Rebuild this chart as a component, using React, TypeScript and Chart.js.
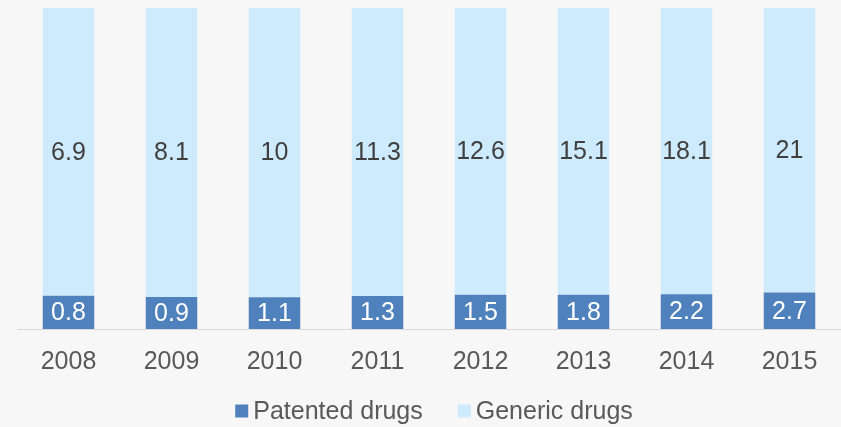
import React, { useEffect, useRef } from "react";
import { Chart, registerables } from "chart.js";

Chart.register(...registerables);

const years = ["2008", "2009", "2010", "2011", "2012", "2013", "2014", "2015"];
const patented = [0.8, 0.9, 1.1, 1.3, 1.5, 1.8, 2.2, 2.7];
const generic = [6.9, 8.1, 10, 11.3, 12.6, 15.1, 18.1, 21];
const seriesNames = ["Patented drugs", "Generic drugs"];
const seriesColors = ["#4f81bd", "#cdebfd"];

const FONT = "'Liberation Sans', Arial, sans-serif";
const FONT_SIZE = 25;

const totals = years.map((_, i) => patented[i] + generic[i]);
const patentedPct = patented.map((v, i) => (v / totals[i]) * 100);
const genericPct = generic.map((v, i) => (v / totals[i]) * 100);
const rawValues = [patented, generic];
const labelColors = ["#ffffff", "#404040"];

const valueLabels = {
  id: "valueLabels",
  afterDatasetsDraw(chart: any) {
    const ctx = chart.ctx;
    ctx.save();
    ctx.font = `${FONT_SIZE}px ${FONT}`;
    ctx.textAlign = "center";
    ctx.textBaseline = "middle";
    chart.data.datasets.forEach((_: any, di: number) => {
      const meta = chart.getDatasetMeta(di);
      meta.data.forEach((bar: any, i: number) => {
        const { x, y, base } = bar.getProps(["x", "y", "base"], true);
        ctx.fillStyle = labelColors[di];
        ctx.fillText(String(rawValues[di][i]), x, (y + base) / 2 + 1);
      });
    });
    ctx.restore();
  },
};

const customLegend = {
  id: "customLegend",
  afterDraw(chart: any) {
    const ctx = chart.ctx;
    const box = 13;
    const gapText = 5;
    const gapItem = 35;
    ctx.save();
    ctx.font = `${FONT_SIZE}px ${FONT}`;
    ctx.textBaseline = "middle";
    ctx.textAlign = "left";
    const widths = seriesNames.map((n) => box + gapText + ctx.measureText(n).width);
    const total = widths.reduce((a, b) => a + b, 0) + gapItem * (seriesNames.length - 1);
    const center = (chart.chartArea.left + chart.chartArea.right) / 2 + 5;
    let x = center - total / 2;
    const yc = chart.chartArea.bottom + 82;
    seriesNames.forEach((n, i) => {
      ctx.fillStyle = seriesColors[i];
      ctx.fillRect(x, yc - box / 2, box, box);
      ctx.fillStyle = "#595959";
      ctx.fillText(n, x + box + gapText, yc + 1);
      x += widths[i] + gapItem;
    });
    ctx.restore();
  },
};

export default function App() {
  const ref = useRef<HTMLCanvasElement | null>(null);
  useEffect(() => {
    if (!ref.current) return;
    const chart = new Chart(ref.current, {
      type: "bar",
      data: {
        labels: years,
        datasets: seriesNames.map((name, i) => ({
          label: name,
          data: i === 0 ? patentedPct : genericPct,
          backgroundColor: seriesColors[i],
          borderColor: seriesColors[i],
          barPercentage: 0.5,
          categoryPercentage: 1,
        })),
      },
      options: {
        animation: false,
        responsive: false,
        layout: { padding: { left: 17, right: 0, top: 8, bottom: 32 } },
        scales: {
          x: {
            stacked: true,
            grid: { display: false, drawTicks: false },
            border: { display: true, color: "#d9d9d9", width: 1 },
            ticks: { color: "#595959", font: { family: FONT, size: FONT_SIZE }, padding: 18 },
          },
          y: {
            stacked: true,
            display: false,
            min: 0,
            max: 100,
          },
        },
        plugins: {
          legend: { display: false },
          tooltip: { enabled: false },
        },
      },
      plugins: [valueLabels, customLegend],
    });
    return () => chart.destroy();
  }, []);
  return (
    <div style={{ position: "absolute", left: 0, top: 0, width: 841, height: 427, background: "#f7f7f7" }}>
      <canvas ref={ref} width={841} height={427} />
    </div>
  );
}
